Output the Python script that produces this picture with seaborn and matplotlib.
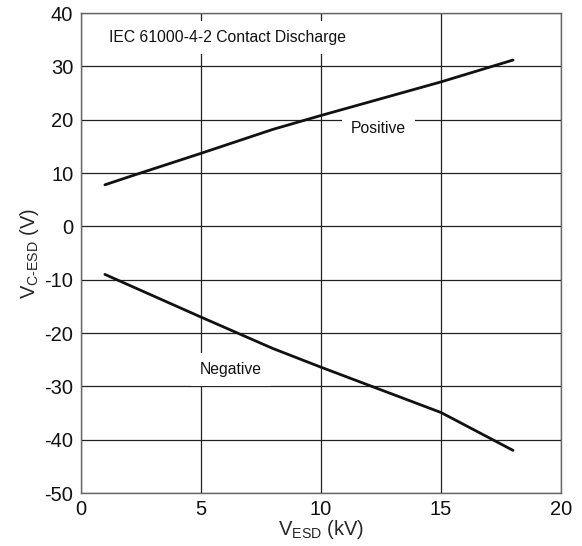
import pandas as pd
import seaborn as sns
import matplotlib.pyplot as plt

# clamping voltage vs ESD voltage
pos_kv = [1, 2, 5, 8, 10, 15, 18]
pos_vc = [7.8, 9.3, 13.7, 18.2, 20.8, 27.1, 31.2]
neg_kv = [1, 5, 8, 10, 15, 18]
neg_vc = [-9.0, -17.0, -22.9, -26.4, -34.9, -42.0]

x_ticks = [0, 5, 10, 15, 20]
y_ticks = [-50, -40, -30, -20, -10, 0, 10, 20, 30, 40]

df = pd.concat([
    pd.DataFrame({"kv": pos_kv, "vc": pos_vc, "polarity": "Positive"}),
    pd.DataFrame({"kv": neg_kv, "vc": neg_vc, "polarity": "Negative"}),
])

sns.set_style("white")
plt.rcParams['font.family'] = ['Liberation Sans', 'DejaVu Sans']
plt.rcParams['mathtext.fontset'] = 'custom'
plt.rcParams['mathtext.rm'] = 'Liberation Sans'
plt.rcParams['mathtext.it'] = 'Liberation Sans'
plt.rcParams['axes.unicode_minus'] = False

fig = plt.figure(figsize=(5.82, 5.46), dpi=100)
ax = fig.add_axes([0.139, 0.097, 0.825, 0.879])

sns.lineplot(data=df, x="kv", y="vc", hue="polarity", units="polarity",
             estimator=None, sort=False, palette=["#111111", "#111111"],
             linewidth=2.0, legend=False, ax=ax)

ax.set_xlim(0, 20)
ax.set_ylim(-50, 40)
ax.set_xticks(x_ticks)
ax.set_yticks(y_ticks)
ax.grid(True, color="#222222", linewidth=0.9)
ax.set_axisbelow(True)
for s in ax.spines.values():
    s.set_color("#666666")
    s.set_linewidth(1.0)
ax.tick_params(axis='both', length=0, labelsize=14.5, colors="#111111")
ax.tick_params(axis='y', pad=5.5)
ax.tick_params(axis='x', pad=5)

ax.set_xlabel(r"V$_{\text{ESD}}$ (kV)", fontsize=14.5, labelpad=-1)
ax.set_ylabel(r"V$_{\text{C-ESD}}$ (V)", fontsize=14.5, labelpad=2)

box = dict(facecolor="white", edgecolor="none", pad=6.5)
ax.text(1.17, 35.4, "IEC 61000-4-2 Contact Discharge", fontsize=11.3,
        ha="left", va="center", bbox=box, color="#111111")
ax.text(12.4, 18.4, "Positive", fontsize=11.3, ha="center", va="center",
        bbox=box, color="#111111")
ax.text(6.25, -26.8, "Negative", fontsize=11.3, ha="center", va="center",
        bbox=box, color="#111111")

fig.savefig("out.png", dpi=100)
